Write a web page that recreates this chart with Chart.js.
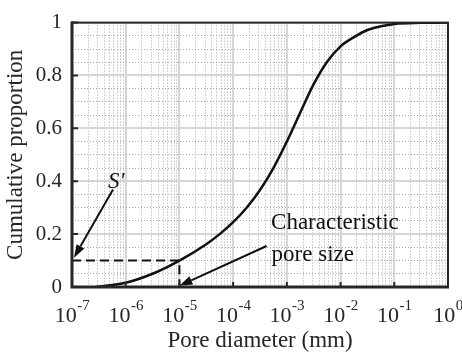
<!DOCTYPE html>
<html>
<head>
<meta charset="utf-8">
<script src="https://cdn.jsdelivr.net/npm/chart.js@4/dist/chart.umd.min.js"></script>
<style>
  body { margin: 0; background: #fff; }
  canvas { display: block; }
</style>
</head>
<body>
<canvas id="poreChart" width="462" height="355"></canvas>
<script>
// pore size distribution
const poreDiameter = [2.8e-7, 1e-6, 3.16e-6, 1e-5, 3.16e-5, 5.62e-5, 1e-4, 1.78e-4, 3.16e-4, 5.62e-4, 1e-3,
    1.78e-3, 3.16e-3, 5.62e-3, 1e-2, 1.78e-2, 3.16e-2, 5.62e-2, 1e-1, 3.16e-1, 1];
const cumulativeProportion = [0, 0.016, 0.05, 0.1, 0.162, 0.2, 0.245, 0.3, 0.367, 0.45, 0.55,
    0.66, 0.767, 0.852, 0.91, 0.945, 0.972, 0.986, 0.995, 0.999, 1];

// characteristic pore size and its S' value
const charDiameter = 1e-5;
const charProportion = 0.1;

// tick labels
const xTickExponents = [-7, -6, -5, -4, -3, -2, -1, 0];
const yTickLabels = ['0', '0.2', '0.4', '0.6', '0.8', '1'];

const FONT = "'Liberation Serif', 'Times New Roman', serif";
const INK = '#262626';

const isDecade = v => Math.abs(Math.log10(v) - Math.round(Math.log10(v))) < 1e-9;
const isMajorY = v => Math.abs(v * 5 - Math.round(v * 5)) < 1e-6;

// all log grid positions 1..9 x 10^n
const xGridValues = [];
xTickExponents.forEach(e => {
    for (let m = 1; m <= 9; m++) {
        if (e === 0 && m > 1) break;
        xGridValues.push(m * Math.pow(10, e));
    }
});

function drawArrow(ctx, x1, y1, x2, y2) {
    const ang = Math.atan2(y2 - y1, x2 - x1);
    const len = 13, half = 4.5;
    const bx = x2 - len * Math.cos(ang), by = y2 - len * Math.sin(ang);
    ctx.beginPath();
    ctx.moveTo(x1, y1);
    ctx.lineTo(bx, by);
    ctx.stroke();
    ctx.beginPath();
    ctx.moveTo(x2, y2);
    ctx.lineTo(bx + half * Math.sin(ang), by - half * Math.cos(ang));
    ctx.lineTo(bx - half * Math.sin(ang), by + half * Math.cos(ang));
    ctx.closePath();
    ctx.fill();
}

const annotations = {
    id: 'annotations',
    afterDatasetsDraw(chart) {
        const { ctx, scales: { x, y } } = chart;
        const px = v => x.getPixelForValue(v);
        const py = v => y.getPixelForValue(v);
        ctx.save();
        ctx.strokeStyle = '#111';
        ctx.fillStyle = '#111';
        ctx.lineWidth = 2;
        // S' arrow -> y axis at S'
        drawArrow(ctx, px(5.8e-7), py(0.369), px(1.09e-7), py(0.111));
        // characteristic pore size arrow -> x axis
        drawArrow(ctx, px(4.2e-4), py(0.155), px(charDiameter), py(0.005));

        ctx.textAlign = 'left';
        ctx.textBaseline = 'alphabetic';
        ctx.font = 'italic 23px ' + FONT;
        ctx.fillText("S'", px(4.7e-7), py(0.376));
        ctx.font = '23px ' + FONT;
        ctx.fillText('Characteristic', px(5.08e-4), py(0.221));
        ctx.fillText('pore size', px(5.2e-4), py(0.1));
        ctx.restore();
    },
    afterDraw(chart) {
        const { ctx, chartArea: a, scales: { x, y } } = chart;
        ctx.save();
        ctx.strokeStyle = INK;
        // inward ticks
        ctx.lineWidth = 2;
        ctx.beginPath();
        yTickLabels.forEach((t, i) => {
            const yy = y.getPixelForValue(i * 0.2);
            ctx.moveTo(a.left, yy);
            ctx.lineTo(a.left + 6, yy);
        });
        xTickExponents.forEach(e => {
            const xx = x.getPixelForValue(Math.pow(10, e));
            ctx.moveTo(xx, a.bottom);
            ctx.lineTo(xx, a.bottom - 5);
        });
        ctx.stroke();
        // frame
        ctx.lineWidth = 2;
        ctx.strokeRect(a.left, a.top, a.right - a.left, a.bottom - a.top);
        ctx.lineWidth = 3;
        ctx.beginPath();
        ctx.moveTo(a.left, a.top - 1);
        ctx.lineTo(a.left, a.bottom);
        ctx.lineTo(a.right + 1, a.bottom);
        ctx.stroke();

        // x tick labels 10^n
        ctx.fillStyle = INK;
        ctx.textBaseline = 'alphabetic';
        ctx.textAlign = 'left';
        xTickExponents.forEach(e => {
            const xx = x.getPixelForValue(Math.pow(10, e));
            const sup = String(e);
            ctx.font = '22px ' + FONT;
            const wBase = ctx.measureText('10').width;
            ctx.font = '15px ' + FONT;
            const wSup = ctx.measureText(sup).width;
            const left = xx - (wBase + wSup) / 2;
            ctx.font = '22px ' + FONT;
            ctx.fillText('10', left, 322);
            ctx.font = '15px ' + FONT;
            ctx.fillText(sup, left + wBase + 0.5, 310);
        });
        ctx.restore();
    }
};

const minorDash = [1, 2];

new Chart(document.getElementById('poreChart'), {
    type: 'line',
    data: {
        datasets: [{
            label: 'Cumulative proportion',
            data: poreDiameter.map((d, i) => ({ x: d, y: cumulativeProportion[i] })),
            borderColor: '#111',
            borderWidth: 2.5,
            pointRadius: 0,
            cubicInterpolationMode: 'monotone',
            fill: false
        }, {
            label: 'Characteristic',
            data: [{ x: 1e-7, y: charProportion }, { x: charDiameter, y: charProportion }, { x: charDiameter, y: 0 }],
            borderColor: '#111',
            borderWidth: 2,
            borderDash: [9, 5],
            pointRadius: 0,
            tension: 0,
            fill: false
        }]
    },
    plugins: [annotations],
    options: {
        responsive: false,
        animation: false,
        devicePixelRatio: 1,
        layout: { padding: { top: 16, right: 14, left: 0, bottom: 0 } },
        plugins: {
            legend: { display: false },
            tooltip: { enabled: false }
        },
        scales: {
            x: {
                type: 'logarithmic',
                min: 1e-7,
                max: 1,
                afterBuildTicks: scale => {
                    scale.ticks = xGridValues.map(v => ({ value: v, major: isDecade(v) }));
                },
                afterFit: scale => { scale.height = 68; },
                ticks: { display: false },
                grid: {
                    drawTicks: false,
                    color: c => (c.tick && c.tick.major) ? '#d6d6d6' : '#a8a8a8',
                    lineWidth: c => (c.tick && c.tick.major) ? 2 : 1
                },
                border: {
                    display: false,
                    dash: c => (c.tick && !c.tick.major) ? minorDash : []
                },
                title: {
                    display: true,
                    text: 'Pore diameter (mm)',
                    color: INK,
                    font: { family: FONT, size: 23, lineHeight: 1 },
                    padding: { top: 0, bottom: 2.5 }
                }
            },
            y: {
                min: 0,
                max: 1,
                afterFit: scale => { scale.width = 72; },
                ticks: {
                    stepSize: 0.05,
                    autoSkip: false,
                    padding: 10,
                    color: INK,
                    font: { family: FONT, size: 21 },
                    callback: v => isMajorY(v) ? yTickLabels[Math.round(v * 5)] : ''
                },
                grid: {
                    drawTicks: false,
                    color: c => (c.tick && isMajorY(c.tick.value)) ? '#d6d6d6' : '#a8a8a8',
                    lineWidth: c => (c.tick && isMajorY(c.tick.value)) ? 2 : 1
                },
                border: {
                    display: false,
                    dash: c => (c.tick && !isMajorY(c.tick.value)) ? minorDash : []
                },
                title: {
                    display: true,
                    text: 'Cumulative proportion',
                    color: INK,
                    font: { family: FONT, size: 23, lineHeight: 1 },
                    padding: { top: 4.5, bottom: 0 }
                }
            }
        }
    }
});
</script>
</body>
</html>
